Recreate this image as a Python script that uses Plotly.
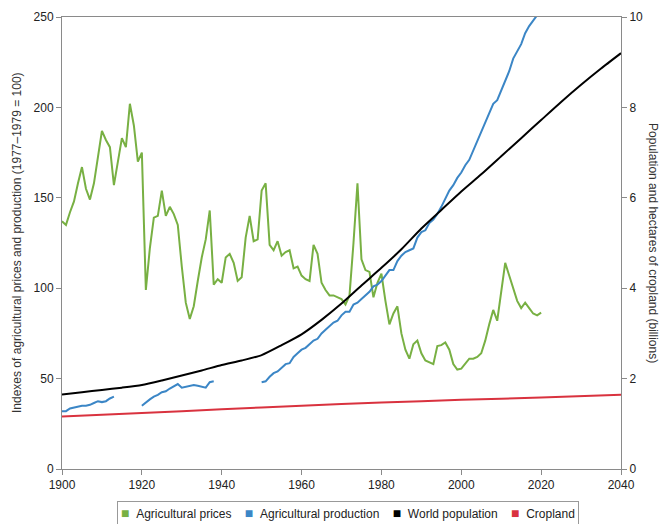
import plotly.graph_objects as go

# ---------------- data ----------------
price_years = list(range(1900, 2021))
agricultural_prices = [
    137, 135, 142, 148, 158, 167, 155, 149, 158, 174,   # 1900-1909
    187, 182, 178, 157, 170, 183, 178, 202, 190, 170,   # 1910-1919
    175, 99, 122, 139, 140, 154, 140, 145, 141, 135,    # 1920-1929
    112, 92, 83, 90, 104, 117, 127, 143, 102, 105,      # 1930-1939
    103, 117, 119, 114, 104, 106, 128, 140, 126, 127,   # 1940-1949
    154, 158, 124, 121, 126, 118, 120, 121, 111, 112,   # 1950-1959
    107, 105, 104, 124, 119, 103, 99, 96, 96, 95,       # 1960-1969
    94, 91, 96, 125, 158, 116, 110, 109, 95, 103,       # 1970-1979
    108, 93, 80, 86, 90, 75, 66, 61, 69, 71,            # 1980-1989
    64, 60, 59, 58, 68, 68.5, 70, 66, 58, 55,           # 1990-1999
    55.5, 58, 61, 61, 62, 64, 71, 80, 88, 82,           # 2000-2009
    98, 114, 107, 100, 93, 89, 92, 89, 86, 85,          # 2010-2019
    86.5,                                               # 2020
]

production_years = list(range(1900, 2020))
agricultural_production = [
    32, 32, 33.5, 34, 34.5, 35, 35, 35.5, 36.5, 37.5,   # 1900-1909
    37, 37.5, 39, 40, None, None, None, None, None, None,  # 1910-1919
    35, 37, 38.5, 40, 41, 42.5, 43, 44.5, 46, 47,       # 1920-1929
    45, 45.5, 46, 46.5, 46, 45.5, 45, 48, 48.5, None,   # 1930-1939
    None, None, None, None, None, None, None, None, None, None,  # 1940-1949
    48, 48.5, 51, 53, 54, 56, 58, 58.5, 62, 64,         # 1950-1959
    66, 67, 69, 71, 72, 75, 77, 79, 81, 82,             # 1960-1969
    85, 87, 87, 91, 92, 94, 96, 98, 101, 102,           # 1970-1979
    104, 107, 110, 110, 115, 118, 120, 121, 122, 128,   # 1980-1989
    131, 132, 136, 138, 141, 145, 150, 154, 157, 161,   # 1990-1999
    164, 168, 171, 176, 182, 186, 191, 196, 202, 204,   # 2000-2009
    209, 215, 220, 227, 231, 235, 241, 245, 248, 251,   # 2010-2019
]

population_years = list(range(1900, 2041, 5))
world_population = [
    1.65, 1.70, 1.75, 1.80, 1.86, 1.96, 2.07, 2.18, 2.30, 2.40,
    2.52, 2.74, 2.98, 3.30, 3.66, 4.06, 4.45, 4.86, 5.32, 5.73,
    6.14, 6.52, 6.92, 7.32, 7.72, 8.12, 8.50, 8.86, 9.20,
]

cropland_years = [1900, 1920, 1940, 1960, 1980, 2000, 2020, 2040]
cropland = [1.16, 1.24, 1.32, 1.40, 1.47, 1.53, 1.58, 1.64]

x_ticks = list(range(1900, 2041, 20))
left_ticks = [0, 50, 100, 150, 200, 250]
right_ticks = [0, 2, 4, 6, 8, 10]

series_names = ["Agricultural prices", "Agricultural production",
                "World population", "Cropland"]
series_colors = ["#78b043", "#3b86c6", "#000000", "#d9323f"]

# ---------------- figure ----------------
FONT = "Liberation Sans, Arial, sans-serif"
fig = go.Figure()

fig.add_trace(go.Scatter(x=price_years, y=agricultural_prices, mode="lines",
                         name=series_names[0],
                         line=dict(color=series_colors[0], width=2),
                         showlegend=False, yaxis="y"))
fig.add_trace(go.Scatter(x=production_years, y=agricultural_production, mode="lines",
                         name=series_names[1],
                         line=dict(color=series_colors[1], width=2),
                         connectgaps=False, showlegend=False, yaxis="y"))
fig.add_trace(go.Scatter(x=population_years, y=world_population, mode="lines",
                         name=series_names[2],
                         line=dict(color=series_colors[2], width=2, shape="spline", smoothing=0.6),
                         showlegend=False, yaxis="y2"))
fig.add_trace(go.Scatter(x=cropland_years, y=cropland, mode="lines",
                         name=series_names[3],
                         line=dict(color=series_colors[3], width=2, shape="spline", smoothing=0.6),
                         showlegend=False, yaxis="y2"))

# legend as a boxed text line with coloured square swatches
sp = "\u00a0"
legend_parts = []
for name, color in zip(series_names, series_colors):
    legend_parts.append(
        f"<span style='color:{color};font-size:14px'>\u25a0</span>{sp * 2}{name}")
legend_text = (sp * 4).join(legend_parts)

axis_line = "#8a8a8a"
tick_font = dict(family=FONT, size=12, color="#222222")

fig.update_layout(
    width=660, height=524,
    margin=dict(l=62, r=39, t=17, b=55, autoexpand=False),
    paper_bgcolor="white", plot_bgcolor="white",
    showlegend=False,
    font=dict(family=FONT, size=12, color="#222222"),
    xaxis=dict(range=[1900, 2040], tickvals=x_ticks, ticks="outside", ticklen=5,
               tickcolor=axis_line, showline=True, linecolor=axis_line, linewidth=1,
               mirror=True, showgrid=False, zeroline=False, tickfont=tick_font,
               automargin=False),
    yaxis=dict(range=[0, 250], tickvals=left_ticks, ticks="outside", ticklen=5,
               tickcolor=axis_line, showline=True, linecolor=axis_line, linewidth=1,
               showgrid=False, zeroline=False, tickfont=tick_font, automargin=False),
    yaxis2=dict(range=[0, 10], tickvals=right_ticks, ticks="outside", ticklen=5,
                tickcolor=axis_line, showline=True, linecolor=axis_line, linewidth=1,
                overlaying="y", side="right", showgrid=False, zeroline=False,
                tickfont=tick_font, automargin=False),
    annotations=[
        dict(text="Indexes of agricultural prices and production (1977\u20131979 = 100)",
             xref="paper", yref="paper", x=-0.0805, y=0.5, xanchor="center", yanchor="middle",
             textangle=-90, showarrow=False,
             font=dict(family=FONT, size=12, color="#333333")),
        dict(text="Population and hectares of cropland (billions)",
             xref="paper", yref="paper", x=1.0572, y=0.5, xanchor="center", yanchor="middle",
             textangle=90, showarrow=False,
             font=dict(family=FONT, size=12, color="#333333")),
        dict(text=legend_text,
             xref="paper", yref="paper", x=0.5116, y=-0.0975, xanchor="center",
             yanchor="middle", showarrow=False, align="left",
             bordercolor="#999999", borderwidth=1, borderpad=3,
             font=dict(family=FONT, size=12, color="#222222")),
    ],
)

# remove the browser's default 8px body margin so the figure fills the window
fig.write_html("out.html",
               config={"displayModeBar": False},
               post_script="document.body.style.margin='0';"
                           "document.body.style.overflow='hidden';")
